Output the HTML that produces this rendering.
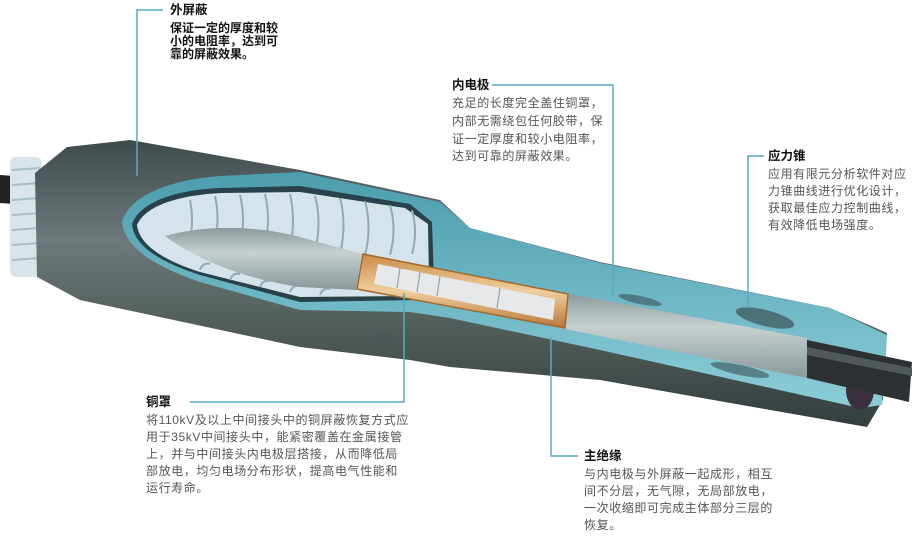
<!DOCTYPE html>
<html><head><meta charset="utf-8"><style>
html,body{margin:0;padding:0;background:#fff}
svg{display:block}
text{font-family:"Liberation Sans","Noto Sans CJK SC",sans-serif}
.t{font-size:12.5px;font-weight:bold;fill:#111}
.b{font-size:12px;fill:#555;letter-spacing:0.6px}
.bb{font-size:12px;fill:#111;font-weight:bold}
.ln{stroke:#5aaac0;stroke-width:1.5;fill:none}
</style></head><body>
<svg width="920" height="536" viewBox="0 0 920 536" xmlns="http://www.w3.org/2000/svg">
<defs>
<linearGradient id="sh" x1="0" y1="0" x2="0" y2="1">
<stop offset="0" stop-color="#3e4a4c"/><stop offset="0.35" stop-color="#6d797a"/><stop offset="0.6" stop-color="#56625f"/><stop offset="1" stop-color="#333d3e"/>
</linearGradient>
<linearGradient id="cy" x1="0" y1="0" x2="0" y2="1">
<stop offset="0" stop-color="#4c9dae"/><stop offset="1" stop-color="#8ccdd8"/>
</linearGradient>
<linearGradient id="cu" x1="0" y1="0" x2="0" y2="1">
<stop offset="0" stop-color="#c98a45"/><stop offset="0.5" stop-color="#efcf9e"/><stop offset="1" stop-color="#b9773a"/>
</linearGradient>
<linearGradient id="gr" x1="0" y1="0" x2="0" y2="1">
<stop offset="0" stop-color="#8b9a9c"/><stop offset="0.4" stop-color="#c6d0d1"/><stop offset="1" stop-color="#8a9899"/>
</linearGradient>
</defs>

<polygon points="0,175 14,176 14,204 0,203" fill="#222"/>
<rect x="10" y="157" width="32" height="120" rx="6" fill="#d8e4ea"/>
<g stroke="#aabdc6" stroke-width="2">
<line x1="12" y1="170" x2="40" y2="168"/><line x1="12" y1="185" x2="40" y2="183"/><line x1="12" y1="200" x2="40" y2="198"/><line x1="12" y1="215" x2="40" y2="213"/><line x1="12" y1="230" x2="40" y2="228"/><line x1="12" y1="245" x2="40" y2="243"/><line x1="12" y1="260" x2="40" y2="258"/>
</g>

<polygon points="67,147 130,140 300,170 440,200 470,228 600,262 830,308 887,333 883,400 867,427 600,380 450,367 410,360 300,347 80,300 37,277 35,173" fill="url(#sh)"/>

<path d="M122,222 C130,195 170,180 220,176 L300,172 L440,202 L470,228 L600,263 L830,308 L887,335 L882,405 L860,408 L600,350 L450,318 L410,312 L300,310 L200,282 C160,268 125,250 122,222 Z" fill="url(#cy)"/>
<path d="M132,224 C140,202 175,190 220,188 L300,186 L410,204 L432,222 L434,282 L420,300 L300,302 L200,275 C160,262 134,246 132,224 Z" fill="#27424a"/>
<path d="M137,225 C145,206 178,195 222,193 L300,192 L405,208 L428,224 L429,280 L416,296 L300,297 L200,272 C162,260 139,244 137,225 Z" fill="#d5e4ea"/>
<g stroke="#8fa9b5" stroke-width="2" fill="none">
<path d="M190,200 q4,20 0,40"/><path d="M215,196 q5,22 0,45"/><path d="M240,195 q6,24 0,50"/><path d="M265,194 q6,25 0,52"/><path d="M290,194 q6,26 0,54"/><path d="M315,196 q7,26 0,56"/><path d="M340,198 q7,26 0,56"/><path d="M365,201 q7,26 0,54"/><path d="M390,205 q7,24 0,50"/><path d="M412,210 q6,22 0,44"/>
<path d="M200,270 q3,-8 10,-6 M230,280 q3,-8 10,-6 M260,287 q3,-8 10,-6 M290,292 q3,-8 10,-6 M320,295 q3,-8 10,-6"/>
</g>
<path d="M165,236 C200,226 250,224 300,237 L362,254 L356,290 L300,287 C250,280 200,262 165,236 Z" fill="url(#gr)"/>
<polygon points="565,293 807,338 807,378 560,328" fill="url(#gr)"/>
<ellipse cx="765" cy="318" rx="30" ry="8" transform="rotate(14 765 318)" fill="#3b5257" opacity="0.7"/>
<ellipse cx="640" cy="300" rx="22" ry="4" transform="rotate(12 640 300)" fill="#3b5257" opacity="0.6"/>
<ellipse cx="740" cy="370" rx="30" ry="5" transform="rotate(12 740 370)" fill="#3b5257" opacity="0.6"/>
<ellipse cx="860" cy="390" rx="14" ry="20" fill="#3a2f3a"/>
<polygon points="807,340 912,362 909,402 807,378" fill="#2d3133"/>
<polygon points="807,347 912,368 912,376 807,355" fill="#50585a"/>
<polygon points="363,254 568,294 565,328 357,289" fill="url(#cu)" stroke="#a06a30" stroke-width="1.5"/>
<polygon points="378,264 555,299 553,320 374,284" fill="#e6e8ea"/>
<g stroke="#9aa3a8" stroke-width="1.2"><line x1="400" y1="268" x2="397" y2="288"/><line x1="420" y1="272" x2="417" y2="292"/><line x1="440" y1="276" x2="437" y2="296"/><line x1="500" y1="288" x2="497" y2="308"/></g>
<text x="372" y="340" font-size="14" font-weight="bold" fill="#485354" transform="rotate(10 372 340)">3M</text>

<polyline class="ln" points="137,176 137,10 163,10"/>
<polyline class="ln" points="492,85 613,85 613,298"/>
<polyline class="ln" points="748,308 748,156 764,156"/>
<polyline class="ln" points="190,402 404,402 404,293"/>
<polyline class="ln" points="551,337 551,456 578,456"/>

<text class="t" x="170" y="14">外屏蔽</text>
<text class="bb" x="170" y="32">保证一定的厚度和较</text>
<text class="bb" x="170" y="45">小的电阻率，达到可</text>
<text class="bb" x="170" y="58">靠的屏蔽效果。</text>

<text class="t" x="452" y="89">内电极</text>
<text class="b" x="452" y="107">充足的长度完全盖住铜罩，</text>
<text class="b" x="452" y="125">内部无需绕包任何胶带，保</text>
<text class="b" x="452" y="143">证一定厚度和较小电阻率，</text>
<text class="b" x="452" y="160">达到可靠的屏蔽效果。</text>

<text class="t" x="768" y="160">应力锥</text>
<text class="b" x="768" y="178">应用有限元分析软件对应</text>
<text class="b" x="768" y="195">力锥曲线进行优化设计，</text>
<text class="b" x="768" y="212">获取最佳应力控制曲线，</text>
<text class="b" x="768" y="229">有效降低电场强度。</text>

<text class="t" x="146" y="406">铜罩</text>
<text class="b" x="146" y="424">将110kV及以上中间接头中的铜屏蔽恢复方式应</text>
<text class="b" x="146" y="441">用于35kV中间接头中，能紧密覆盖在金属接管</text>
<text class="b" x="146" y="458">上，并与中间接头内电极层搭接，从而降低局</text>
<text class="b" x="146" y="475">部放电，均匀电场分布形状，提高电气性能和</text>
<text class="b" x="146" y="492">运行寿命。</text>

<text class="t" x="584" y="460">主绝缘</text>
<text class="b" x="584" y="478">与内电极与外屏蔽一起成形，相互</text>
<text class="b" x="584" y="495">间不分层，无气隙，无局部放电，</text>
<text class="b" x="584" y="512">一次收缩即可完成主体部分三层的</text>
<text class="b" x="584" y="529">恢复。</text>
</svg>
</body></html>
